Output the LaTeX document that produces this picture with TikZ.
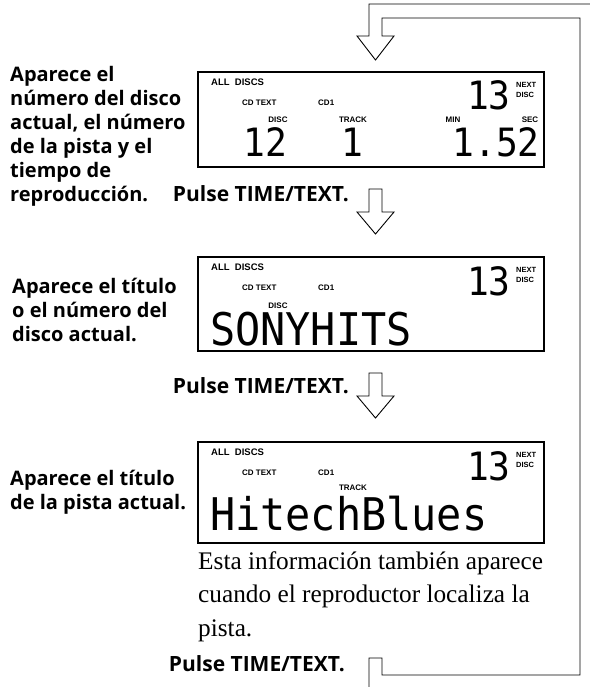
\documentclass[tikz,border=0pt]{standalone}
\usepackage{fontspec}
\setmainfont{Liberation Serif}
\newfontfamily\stepfont{Open Sans}
\newfontfamily\lcdfont[FakeStretch=0.93]{DejaVu Sans Mono}
\newfontfamily\tagfont{Liberation Sans}
\usetikzlibrary{positioning,calc}

\begin{document}
\begin{tikzpicture}[
    x=1pt, y=-1pt,
    display/.style={rectangle, draw, line width=1.6pt, minimum width=346pt,
                    minimum height=#1, inner sep=0pt, anchor=north west},
    tag/.style={font=\tagfont\bfseries\fontsize{8}{9.5}\selectfont,
                inner sep=0pt, anchor=mid},
    bigtag/.style={font=\tagfont\bfseries\fontsize{9.5}{11}\selectfont,
                   inner sep=0pt, anchor=mid west},
    nexttag/.style={font=\tagfont\bfseries\fontsize{7.5}{10.5}\selectfont,
                    align=left, inner sep=0pt, anchor=north west},
    digits/.style={font=\lcdfont\fontsize{39}{39}\selectfont, inner sep=0pt,
                   anchor=base},
    lcdtext/.style={font=\lcdfont\fontsize{45}{45}\selectfont, inner sep=0pt,
                    anchor=base west},
    note/.style={font=\stepfont\bfseries\fontsize{20}{24}\selectfont,
                 align=left, inner sep=0pt, anchor=base west},
    press/.style={font=\stepfont\bfseries\fontsize{21}{24}\selectfont,
                  inner sep=0pt, anchor=base east},
    info/.style={font=\fontsize{25.3}{33.5}\selectfont, align=left,
                 inner sep=0pt, anchor=base west},
    loop/.style={line width=0.9pt, line join=miter},
    hollowarrow/.pic={\draw[loop] (-6.5,0) -- (6.5,0) -- (6.5,23) -- (18.5,23)
                      -- (0,45) -- (-18.5,23) -- (-6.5,23) -- cycle;}
]
\useasboundingbox (0,0) rectangle (589,687);

% D1
\node[display=95pt] (disp1) at (197,71) {};
\node[bigtag] (d1all) at ($(disp1.north west)+(14,12)$) {ALL\ \ DISCS};
\node[tag, anchor=mid west] (d1cdtext) at ($(disp1.north west)+(45,32)$) {CD TEXT};
\node[tag, anchor=mid west] (d1cd) at ($(disp1.north west)+(121,32)$) {CD1};
\node[digits, anchor=base east] (d1next) at ($(disp1.north west)+(314,39)$) {13};
\node[nexttag] (d1nextlbl) at ($(disp1.north west)+(319,11)$) {NEXT\\DISC};
\node[tag] (d1disc) at ($(disp1.north west)+(81,49)$) {DISC};
\node[tag] (d1track) at ($(disp1.north west)+(156,49)$) {TRACK};
\node[tag] (d1min) at ($(disp1.north west)+(256,49)$) {MIN};
\node[tag] (d1sec) at ($(disp1.north west)+(333,49)$) {SEC};
\node[digits] (d1discno) at ($(disp1.north west)+(68,86)$) {12};
\node[digits] (d1trackno) at ($(disp1.north west)+(155,86)$) {1};
\node[digits, anchor=base east] (d1time) at ($(disp1.north west)+(343,86)$) {1.52};

% D2
\node[display=94pt] (disp2) at (197,256) {};
\node[bigtag] (d2all) at ($(disp2.north west)+(14,12)$) {ALL\ \ DISCS};
\node[tag, anchor=mid west] (d2cdtext) at ($(disp2.north west)+(45,32)$) {CD TEXT};
\node[tag, anchor=mid west] (d2cd) at ($(disp2.north west)+(121,32)$) {CD1};
\node[digits, anchor=base east] (d2next) at ($(disp2.north west)+(314,39)$) {13};
\node[nexttag] (d2nextlbl) at ($(disp2.north west)+(319,11)$) {NEXT\\DISC};
\node[tag] (d2disc) at ($(disp2.north west)+(81,50)$) {DISC};
\node[lcdtext] (d2title) at ($(disp2.north west)+(13,89)$) {SONYHITS};

% D3
\node[display=101pt] (disp3) at (197,441) {};
\node[bigtag] (d3all) at ($(disp3.north west)+(14,12)$) {ALL\ \ DISCS};
\node[tag, anchor=mid west] (d3cdtext) at ($(disp3.north west)+(45,32)$) {CD TEXT};
\node[tag, anchor=mid west] (d3cd) at ($(disp3.north west)+(121,32)$) {CD1};
\node[digits, anchor=base east] (d3next) at ($(disp3.north west)+(314,39)$) {13};
\node[nexttag] (d3nextlbl) at ($(disp3.north west)+(319,11)$) {NEXT\\DISC};
\node[tag] (d3track) at ($(disp3.north west)+(156,47)$) {TRACK};
\node[lcdtext] (d3title) at ($(disp3.north west)+(13,89)$) {HitechBlues};

% notes (base = last line)
\node[note] (note1) at (10,201) {Aparece el\\número del disco\\actual, el número\\de la pista y el\\tiempo de\\reproducción.};
\node[note] (note2) at (12,341) {Aparece el título\\o el número del\\disco actual.};
\node[note] (note3) at (10,509) {Aparece el título\\de la pista actual.};
\node[info] (info3) at (198,636) {Esta información también aparece\\cuando el reproductor localiza la\\pista.};

% steps
\node[press] (press1) at (349,201) {Pulse TIME/TEXT.};
\node[press] (press2) at (349,393) {Pulse TIME/TEXT.};
\node[press] (press3) at (345,671) {Pulse TIME/TEXT.};
\pic (arrow1) at (375.5,189) {hollowarrow};
\pic (arrow2) at (375.5,373) {hollowarrow};

% loop back
\coordinate (loopin) at (375.5,60);
\draw[loop] (593,4) -- (369,4) -- (369,36) -- (357,36) -- (loopin) -- (394,36)
    -- (382,36) -- (382,18) -- (580,18) -- (580,675) -- (382,675) -- (382,658)
    -- (369,658) -- (369,690);

\end{tikzpicture}
\end{document}
